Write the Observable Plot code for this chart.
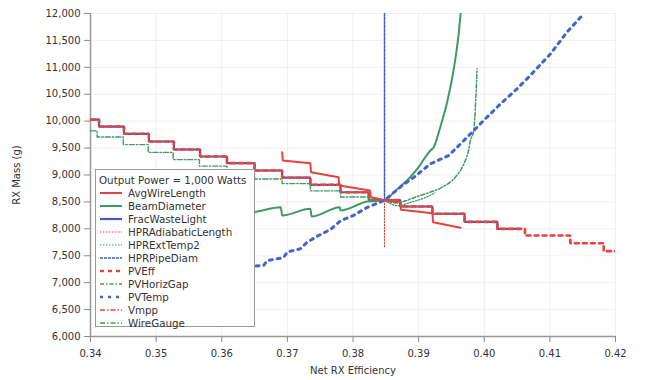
<!DOCTYPE html>
<html>
<head>
<meta charset="utf-8">
<script src="https://cdn.jsdelivr.net/npm/d3@7"></script>
<script src="https://cdn.jsdelivr.net/npm/@observablehq/plot@0.6"></script>
<style>
  html, body { margin: 0; padding: 0; background: #fff; }
  #wrap { position: relative; width: 662px; height: 380px; font-family: "DejaVu Sans", sans-serif; }
  #legend { position: absolute; left: 95px; top: 169px; width: 160px; height: 158px; background: #fff;
            border: 1.5px solid #9a9a9a; box-sizing: border-box; font-size: 10.3px; color: #333; }
  #legend .title { position: absolute; left: 3px; top: 4px; white-space: nowrap; }
  #legend .item { position: absolute; left: 4px; height: 12px; display: flex; align-items: center; white-space: nowrap; }
  #legend svg { margin-right: 6px; }
</style>
</head>
<body>
<div id="wrap"></div>
<script>
// ---- data ----
const legendTitle = "Output Power = 1,000 Watts";
const seriesNames = ["AvgWireLength","BeamDiameter","FracWasteLight","HPRAdiabaticLength","HPRExtTemp2","HPRPipeDiam","PVEff","PVHorizGap","PVTemp","Vmpp","WireGauge"];

const avgWireLengthEff  = [0.3692,0.3693,0.3735,0.3736,0.3778,0.3779,0.3826,0.3827,0.3848,0.3872,0.3873,0.3921,0.3922,0.3964];
const avgWireLengthMass = [9424,9270,9220,9052,8960,8805,8712,8588,8530,8495,8354,8290,8124,8020];

const beamDiameterEff  = [0.3600,0.3650,0.3690,0.3692,0.3735,0.3737,0.3780,0.3781,0.3822,0.3848,0.3865,0.3885,0.3900,0.3910,0.3918,0.3923,0.3933,0.3944,0.3954,0.3961,0.3964];
const beamDiameterMass = [8230,8310,8400,8250,8372,8229,8402,8341,8508,8530,8712,8930,9145,9330,9455,9517,9888,10384,11003,11623,12000];

const stairEff  = [0.3400,0.3413,0.3451,0.3489,0.3527,0.3567,0.3608,0.3650,0.3692,0.3735,0.3781,0.3824,0.3872,0.3921,0.3970,0.4020,0.4062,0.4131,0.4182,0.4200];
const stairMass = [10030,9900,9765,9622,9474,9344,9220,9084,8950,8818,8680,8535,8415,8280,8130,8000,7876,7733,7585,7585];

const fracWasteLightEff  = [0.3400,0.3413,0.3451,0.3489,0.3527,0.3567,0.3608,0.3650,0.3692,0.3735,0.3781,0.3824,0.3872,0.3921,0.3970,0.4020,0.4055];
const fracWasteLightMass = [10030,9900,9765,9622,9474,9344,9220,9084,8950,8818,8680,8535,8415,8280,8130,8000,8000];

const hprAdiabaticEff  = [0.3848,0.3848];
const hprAdiabaticMass = [8530,7660];

const hprExtTemp2Eff  = [0.3848,0.3868,0.3890,0.3910,0.3925];
const hprExtTemp2Mass = [8530,8430,8500,8580,8670];

const hprPipeDiamEff  = [0.3848,0.3848];
const hprPipeDiamMass = [8530,12000];

const pvHorizGapEff  = [0.3848,0.3865,0.3880,0.3895,0.3915,0.3936,0.3956,0.3969,0.3976,0.3979,0.3984,0.3987,0.3989];
const pvHorizGapMass = [8530,8480,8520,8588,8670,8774,8960,9208,9455,9641,9827,10384,10973];

const pvTempEff  = [0.3640,0.3664,0.3669,0.3694,0.3700,0.3720,0.3730,0.3745,0.3766,0.3781,0.3801,0.3822,0.3848,0.3875,0.3893,0.3918,0.3946,0.3974,0.3999,0.4025,0.4050,0.4070,0.4101,0.4126,0.4152];
const pvTempMass = [7300,7320,7410,7465,7570,7630,7750,7860,7990,8150,8250,8400,8530,8805,8960,9208,9362,9702,10012,10323,10601,10848,11251,11653,12000];

const vmppEff  = [0.3830,0.3848,0.3868];
const vmppMass = [8580,8530,8490];

const wireGaugeEff  = [0.3400,0.3410,0.3450,0.3488,0.3526,0.3566,0.3608,0.3650,0.3692,0.3735,0.3781,0.3824,0.3848];
const wireGaugeMass = [9820,9705,9565,9420,9285,9165,9040,8925,8840,8705,8590,8535,8530];

const xTicks = [0.34,0.35,0.36,0.37,0.38,0.39,0.40,0.41,0.42];
const yTicks = [6000,6500,7000,7500,8000,8500,9000,9500,10000,10500,11000,11500,12000];

// ---- styles ----
const RED = "#e5433f", GREEN = "#3e9a62", BLUE = "#3f5cc2";
const styles = {
  AvgWireLength:      {stroke: RED,   strokeWidth: 2,   dash: null},
  BeamDiameter:       {stroke: GREEN, strokeWidth: 2,   dash: null},
  FracWasteLight:     {stroke: BLUE,  strokeWidth: 2.2, dash: null},
  HPRAdiabaticLength: {stroke: RED,   strokeWidth: 1,   dash: "1.5,1.5"},
  HPRExtTemp2:        {stroke: GREEN, strokeWidth: 1.2, dash: "1.5,1.5"},
  HPRPipeDiam:        {stroke: BLUE,  strokeWidth: 1.5, dash: "3,1"},
  PVEff:              {stroke: RED,   strokeWidth: 2.6, dash: "4,4"},
  PVHorizGap:         {stroke: GREEN, strokeWidth: 1.5, dash: "4,2,1.5,2"},
  PVTemp:             {stroke: "#4563cc", strokeWidth: 3, dash: "3,5"},
  Vmpp:               {stroke: RED,   strokeWidth: 1.6, dash: "5,2,1.5,2"},
  WireGauge:          {stroke: GREEN, strokeWidth: 1.4, dash: "5,2,1.5,2"}
};

const zip = (xs, ys) => xs.map((x, i) => ({x, y: ys[i]}));
const lineMark = (name, xs, ys, curve = "linear") => {
  const s = styles[name];
  return Plot.line(zip(xs, ys), {x: "x", y: "y", stroke: s.stroke, strokeWidth: s.strokeWidth,
    strokeDasharray: s.dash, curve, clip: true, strokeLinejoin: "miter"});
};

const chart = Plot.plot({
  width: 662, height: 380,
  marginLeft: 90, marginRight: 47, marginTop: 13, marginBottom: 44,
  style: {fontFamily: "DejaVu Sans, sans-serif", fontSize: "10px", color: "#333", background: "#fff"},
  x: {domain: [0.34, 0.42]},
  y: {domain: [6000, 12000]},
  marks: [
    Plot.gridX(xTicks, {stroke: "#000", strokeOpacity: 0.06}),
    Plot.gridY(yTicks, {stroke: "#000", strokeOpacity: 0.06}),
    Plot.axisX({ticks: xTicks, tickFormat: d3.format(".2f"), stroke: "#888", tickSize: 6, tickPadding: 7, label: "Net RX Efficiency", labelAnchor: "center", labelArrow: "none", labelOffset: 37}),
    Plot.axisY({ticks: yTicks, tickFormat: d3.format(","), stroke: "#888", tickSize: 6, tickPadding: 4, label: "RX Mass (g)", labelAnchor: "center", labelArrow: "none", labelOffset: 78}),
    Plot.ruleX([0.34], {stroke: "#999", strokeWidth: 1.5}),
    Plot.ruleY([6000], {stroke: "#999", strokeWidth: 1.5}),
    lineMark("FracWasteLight", fracWasteLightEff, fracWasteLightMass, "step-after"),
    lineMark("PVEff", stairEff, stairMass, "step-after"),
    lineMark("WireGauge", wireGaugeEff, wireGaugeMass, "step-after"),
    lineMark("BeamDiameter", beamDiameterEff, beamDiameterMass, "monotone-x"),
    lineMark("AvgWireLength", avgWireLengthEff, avgWireLengthMass),
    lineMark("HPRExtTemp2", hprExtTemp2Eff, hprExtTemp2Mass, "monotone-x"),
    lineMark("PVHorizGap", pvHorizGapEff, pvHorizGapMass, "monotone-x"),
    lineMark("PVTemp", pvTempEff, pvTempMass),
    lineMark("HPRPipeDiam", hprPipeDiamEff, hprPipeDiamMass),
    lineMark("HPRAdiabaticLength", hprAdiabaticEff, hprAdiabaticMass),
    lineMark("Vmpp", vmppEff, vmppMass)
  ]
});

const wrap = document.getElementById("wrap");
wrap.appendChild(chart);

// legend overlay (inside plot area, like the reference)
const leg = document.createElement("div");
leg.id = "legend";
const t = document.createElement("div");
t.className = "title"; t.textContent = legendTitle;
leg.appendChild(t);
seriesNames.forEach((name, i) => {
  const s = styles[name];
  const row = document.createElement("div");
  row.className = "item";
  row.style.top = (17 + i * 12.97) + "px";
  const ns = "http://www.w3.org/2000/svg";
  const sw = document.createElementNS(ns, "svg");
  sw.setAttribute("width", 22); sw.setAttribute("height", 8);
  const ln = document.createElementNS(ns, "line");
  ln.setAttribute("x1", 0); ln.setAttribute("x2", 22); ln.setAttribute("y1", 4); ln.setAttribute("y2", 4);
  ln.setAttribute("stroke", s.stroke); ln.setAttribute("stroke-width", Math.min(s.strokeWidth, 2.4));
  if (s.dash) ln.setAttribute("stroke-dasharray", s.dash);
  sw.appendChild(ln);
  row.appendChild(sw);
  const lab = document.createElement("span");
  lab.textContent = name;
  row.appendChild(lab);
  leg.appendChild(row);
});
wrap.appendChild(leg);
</script>
</body>
</html>
